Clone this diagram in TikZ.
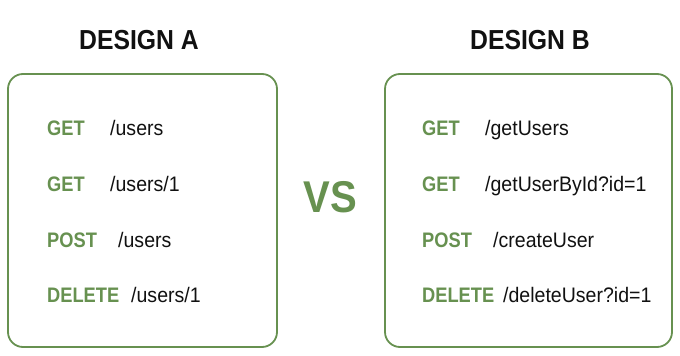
\documentclass[tikz,border=0pt]{standalone}
\usepackage{fontspec}
\setmainfont{Liberation Sans}
\newfontfamily\pathfont[FakeStretch=0.93]{Liberation Sans}
\newfontfamily\verbfont[FakeStretch=0.87]{Liberation Sans}
\newfontfamily\headfont[FakeStretch=0.9]{Liberation Sans}
\definecolor{vgreen}{HTML}{679150}
\definecolor{vtext}{HTML}{111111}
\begin{document}
\begin{tikzpicture}[x=1pt,y=-1pt,
  panel/.style={draw=vgreen,line width=1.8pt,rounded corners=15pt},
  title/.style={font=\headfont\fontsize{27.5}{32}\selectfont\bfseries,text=vtext,inner sep=0pt},
  verb/.style={font=\verbfont\fontsize{21}{25}\selectfont\bfseries,text=vgreen,anchor=base west,inner sep=0pt},
  path/.style={font=\pathfont\fontsize{21}{25}\selectfont,text=vtext,anchor=base west,inner sep=0pt},
  vs/.style={font=\headfont\fontsize{44.5}{50}\selectfont\bfseries,text=vgreen,inner sep=0pt}]
\useasboundingbox (0,0) rectangle (680,356);
\fill[white] (0,0) rectangle (680,356);
% titles
\node[title] (ta) at (139,40) {DESIGN A};
\node[title] (tb) at (530,40) {DESIGN B};
% panels
\draw[panel] (8,74) rectangle (277,347);
\draw[panel] (385,74) rectangle (672,347);
% VS
\node[vs] (vs) at (330,197) {VS};
% Design A rows
\node[verb] (a1v) at (47,135.5) {GET};
\node[path] (a1p) at (110,135.5) {/users};
\node[verb] (a2v) at (47,191.5) {GET};
\node[path] (a2p) at (110,191.5) {/users/1};
\node[verb] (a3v) at (47,247.5) {POST};
\node[path] (a3p) at (118,247.5) {/users};
\node[verb] (a4v) at (47,302.5) {DELETE};
\node[path] (a4p) at (131,302.5) {/users/1};
% Design B rows
\node[verb] (b1v) at (422,135.5) {GET};
\node[path] (b1p) at (485,135.5) {/getUsers};
\node[verb] (b2v) at (422,191.5) {GET};
\node[path] (b2p) at (485,191.5) {/getUserById?id=1};
\node[verb] (b3v) at (422,247.5) {POST};
\node[path] (b3p) at (493,247.5) {/createUser};
\node[verb] (b4v) at (422,302.5) {DELETE};
\node[path] (b4p) at (503,302.5) {/deleteUser?id=1};
\end{tikzpicture}
\end{document}
